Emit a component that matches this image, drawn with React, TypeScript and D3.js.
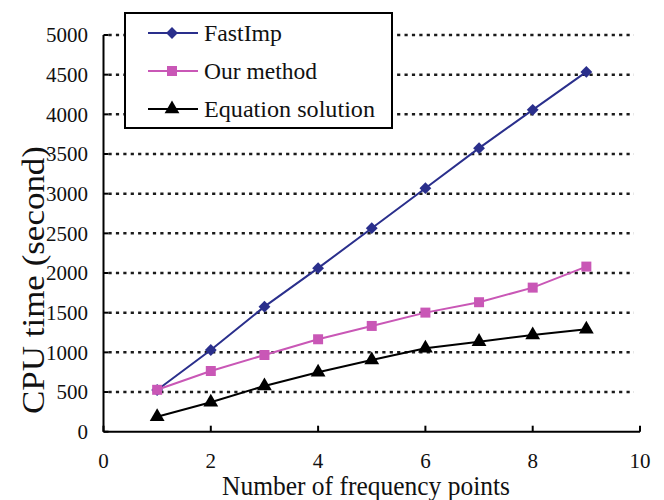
import { scaleLinear, line, symbol, symbolSquare, symbolTriangle } from "d3";

const width = 664;
const height = 500;

const xPoints = [1, 2, 3, 4, 5, 6, 7, 8, 9];
const fastImp = [526, 1030, 1576, 2061, 2565, 3069, 3574, 4057, 4535];
const ourMethod = [528, 765, 967, 1165, 1333, 1501, 1632, 1816, 2081];
const equationSolution = [189, 371, 576, 750, 904, 1052, 1135, 1219, 1291];

const xTicks = [0, 2, 4, 6, 8, 10];
const yTicks = [0, 500, 1000, 1500, 2000, 2500, 3000, 3500, 4000, 4500, 5000];

const seriesNames = ["FastImp", "Our method", "Equation solution"];
const seriesColors = ["#2a2f8c", "#c957b6", "#000000"];
const seriesSymbols = [symbolSquare, symbolSquare, symbolTriangle];
const seriesSizes = [70, 100, 95];
const seriesRotate = [45, 0, 0];
const legendLengths = [78, 113, 171];

const font = "'Liberation Serif', 'Times New Roman', serif";

const App = () => {
  const x = scaleLinear().domain([0, 10]).range([103.5, 640]);
  const y = scaleLinear().domain([0, 5000]).range([431.7, 35]);

  const allSeries = [fastImp, ourMethod, equationSolution];
  const path = line<number>()
    .x((_, i) => x(xPoints[i]))
    .y((d) => y(d));

  const marker = (k: number, cx: number, cy: number, key: string | number) => (
    <path
      key={key}
      d={symbol(seriesSymbols[k], seriesSizes[k])() ?? ""}
      transform={`translate(${cx},${cy}) rotate(${seriesRotate[k]})`}
      fill={seriesColors[k]}
    />
  );

  return (
    <svg
      width={width}
      height={height}
      style={{ position: "absolute", left: 0, top: 0, background: "#fff" }}
    >
      {/* grid */}
      {yTicks
        .filter((t) => t > 0)
        .map((t) => (
          <line
            key={"g" + t}
            x1={x(0) + 5}
            x2={x(10) - 6}
            y1={y(t)}
            y2={y(t)}
            stroke="#1a1a1a"
            strokeWidth={2.5}
            strokeDasharray="3.2,4.2"
          />
        ))}

      {/* axes */}
      <line x1={x(0)} x2={x(0)} y1={y(5000)} y2={y(0)} stroke="#000" strokeWidth={2} />
      <line x1={x(0)} x2={x(10)} y1={y(0)} y2={y(0)} stroke="#000" strokeWidth={2} />
      {yTicks.map((t) => (
        <g key={"y" + t}>
          <line x1={x(0)} x2={x(0) + 5} y1={y(t)} y2={y(t)} stroke="#000" strokeWidth={2} />
          <text
            x={88}
            y={y(t)}
            dy="0.35em"
            textAnchor="end"
            fontFamily={font}
            fontSize={21}
            fill="#111"
          >
            {t}
          </text>
        </g>
      ))}
      {xTicks.map((t) => (
        <g key={"x" + t}>
          <line x1={x(t)} x2={x(t)} y1={y(0)} y2={y(0) - 6} stroke="#000" strokeWidth={2} />
          <text
            x={x(t)}
            y={468}
            textAnchor="middle"
            fontFamily={font}
            fontSize={21}
            fill="#111"
          >
            {t}
          </text>
        </g>
      ))}

      <text
        x={366}
        y={495}
        textAnchor="middle"
        fontFamily={font}
        fontSize={27}
        textLength={288}
        lengthAdjust="spacingAndGlyphs"
        fill="#111"
      >
        Number of frequency points
      </text>
      <text
        transform="translate(44,280) rotate(-90)"
        textAnchor="middle"
        fontFamily={font}
        fontSize={31}
        textLength={268}
        lengthAdjust="spacingAndGlyphs"
        fill="#111"
      >
        CPU time (second)
      </text>

      {/* series */}
      {allSeries.map((s, k) => (
        <g key={"s" + k}>
          <path d={path(s) ?? ""} fill="none" stroke={seriesColors[k]} strokeWidth={2} />
          {s.map((v, i) => marker(k, x(xPoints[i]), y(v), i))}
        </g>
      ))}

      {/* legend */}
      <rect x={125} y={13} width={267} height={115} fill="#fff" stroke="#000" strokeWidth={2} />
      {seriesNames.map((name, k) => {
        const ly = [33, 71, 109][k];
        return (
          <g key={"l" + k}>
            <line x1={148} x2={198} y1={ly} y2={ly} stroke={seriesColors[k]} strokeWidth={2} />
            {marker(k, 172, ly, "m")}
            <text
              x={204}
              y={ly}
              dy="0.35em"
              fontFamily={font}
              fontSize={24}
              textLength={legendLengths[k]}
              lengthAdjust="spacingAndGlyphs"
              fill="#111"
            >
              {name}
            </text>
          </g>
        );
      })}
    </svg>
  );
};

export default App;
